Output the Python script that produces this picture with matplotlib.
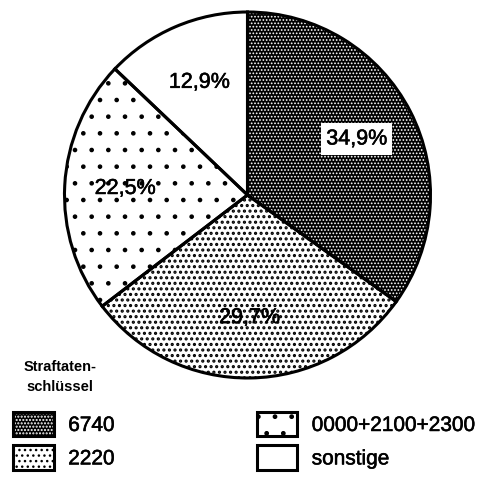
import matplotlib
matplotlib.use('Agg')
from matplotlib import pyplot as plt
from matplotlib import patheffects
from matplotlib.patches import Patch
from matplotlib.legend_handler import HandlerTuple

# Anteile nach Straftatenschluessel (im Uhrzeigersinn ab 12 Uhr)
keys = ['6740', '2220', '0000+2100+2300', 'sonstige']
shares = [34.9, 29.7, 22.5, 12.9]

face_colors = ['black', 'white', 'white', 'white']
hatch_colors = ['white', 'black', 'black', 'white']
hatches = ['.....', '...', '.', '']
hatch_widths = [0.8, 1.5, 0.9, 1.0]

plt.rcParams['font.family'] = ['Liberation Sans', 'DejaVu Sans']

W, H = 479, 482
fig = plt.figure(figsize=(W / 100, H / 100), dpi=100)
ax = fig.add_axes([0, 0, 1, 1])

center = (247.5, H - 195)
radius = 183
heavy = [patheffects.withStroke(linewidth=0.4, foreground='black')]


def set_hatch_lw(p, lw):
    # per-artist hatch width where the matplotlib version allows it
    if hasattr(p, 'set_hatch_linewidth'):
        p.set_hatch_linewidth(lw)


# fill layer with textures
fills, _ = ax.pie(shares, colors=face_colors, hatch=hatches, startangle=90,
                  counterclock=False, center=center, radius=radius,
                  wedgeprops=dict(linewidth=0))
for w, hc, hw in zip(fills, hatch_colors, hatch_widths):
    w.set_edgecolor(hc)
    w.set_linewidth(0)
    set_hatch_lw(w, hw)


def fmt(p):
    return '{:.1f}%'.format(p).replace('.', ',')


# outline layer + labels
outl, _, pcts = ax.pie(shares, startangle=90, counterclock=False,
                       center=center, radius=radius, autopct=fmt,
                       pctdistance=0.67,
                       wedgeprops=dict(fill=False, edgecolor='black',
                                       linewidth=2.2),
                       textprops=dict(fontsize=15.5, color='black'))
for t in pcts:
    t.set_path_effects(heavy)
pcts[0].set_bbox(dict(boxstyle='square,pad=0.25', fc='white', ec='none'))

ax.set_xlim(0, W)
ax.set_ylim(0, H)
ax.set_aspect('equal')
ax.axis('off')

ax.text(60, H - 377, 'Straftaten-\nschlüssel', ha='center', va='center',
        fontsize=10.5, fontweight='bold', linespacing=1.6)

handles = []
for fc, hc, h, hw in zip(face_colors, hatch_colors, hatches, hatch_widths):
    f = Patch(facecolor=fc, edgecolor=hc, hatch=h, linewidth=0)
    set_hatch_lw(f, hw)
    o = Patch(fill=False, edgecolor='black', linewidth=2.2)
    handles.append((f, o))

leg = ax.legend(handles, keys, handler_map={tuple: HandlerTuple(ndivide=1)},
                ncol=2, loc='upper left', bbox_to_anchor=(13, H - 412),
                bbox_transform=ax.transData, frameon=False, borderpad=0,
                borderaxespad=0, fontsize=15, handlelength=1.95,
                handleheight=1.4, handletextpad=0.7, labelspacing=0.45,
                columnspacing=6.8)
for t in leg.get_texts():
    t.set_path_effects(heavy)

plt.savefig('out.png', dpi=100)
